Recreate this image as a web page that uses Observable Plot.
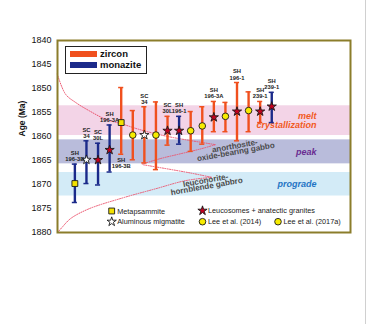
<!DOCTYPE html>
<html><head><meta charset="utf-8">
<script src="https://cdn.jsdelivr.net/npm/d3@7"></script>
<script src="https://cdn.jsdelivr.net/npm/@observablehq/plot@0.6"></script>
<style>
html,body{margin:0;padding:0;background:#fff;}
#wrap{position:relative;width:369px;height:324px;font-family:"Liberation Sans",Arial,sans-serif;}
#wrap svg{position:absolute;left:0;top:0;}
g[aria-label="y-axis tick label"]{font-size:9px;}
</style></head><body><div id="wrap"></div>
<script>
// ---- data ----
const samples = ["SH 196-3B","SC 34","SC 30L","SH 196-3A","SH 196-3B","","SC 34","","SC 30L","SH 196-1","","","SH 196-3A","","SH 196-1","","SH 239-1","SH 239-1"];
const labelSide = ["above","above","above","above","below","","above","","above","above","","","above","","above","","above","above"];
const ages   = [1869.8,1864.85,1864.9,1862.8,1857.1,1859.7,1859.7,1859.7,1858.8,1858.8,1858.8,1857.8,1856.0,1855.8,1854.8,1854.6,1854.8,1853.75];
const ageMin = [1865.75,1860.9,1861.4,1857.6,1849.8,1854.6,1853.8,1852.8,1855.8,1855.8,1854.8,1853.8,1852.7,1852.9,1848.75,1850.7,1852.7,1850.8];
const ageMax = [1873.75,1869.8,1870.1,1867.4,1863.7,1864.85,1865.5,1866.9,1861.8,1861.6,1863.1,1861.6,1859.0,1859.0,1860.9,1859.0,1857.1,1857.1];
const minerals = ["monazite","monazite","monazite","monazite","zircon","zircon","zircon","zircon","zircon","monazite","zircon","zircon","zircon","zircon","zircon","zircon","zircon","monazite"];
const rocks = ["Metapsammite","Aluminous migmatite","Leucosomes + anatectic granites","Leucosomes + anatectic granites","Metapsammite","Lee et al. (2014)","Aluminous migmatite","Lee et al. (2014)","Leucosomes + anatectic granites","Leucosomes + anatectic granites","Lee et al. (2017a)","Lee et al. (2017a)","Leucosomes + anatectic granites","Lee et al. (2017a)","Leucosomes + anatectic granites","Lee et al. (2017a)","Leucosomes + anatectic granites","Leucosomes + anatectic granites"];
const yTicks = [1840,1845,1850,1855,1860,1865,1870,1875,1880];
const bandNames = ["melt\ncrystallization","peak","prograde"];
const bandFrom = [1853.6,1860.7,1867.5];
const bandTo   = [1859.8,1865.7,1872.4];
const rockLabelText = ["anorthosite-\noxide-bearing gabbo","leuconorite-\nhornblende gabbro"];
const rockLabelX = [13.86,11.34];
const rockLabelAge = [1862.73,1869.9];
const curveUpperA = [[-1.52,1847.0],[-0.8,1851.2],[0.06,1852.9],[1.21,1854.6],[2.65,1856.4],[4.09,1857.4],[5.52,1858.5],[7.83,1859.9],[10.99,1861.25],[12.14,1861.7]];
const curveLowerA = [[5.82,1865.75],[7.39,1864.6],[9.12,1863.6],[10.84,1862.6],[12.14,1861.7]];
const curveUpperB = [[5.93,1865.9],[9.98,1867.6],[11.8,1868.5]];
const curveLowerB = [[-1.49,1880.0],[-1.06,1878.8],[-0.37,1877.1],[1.18,1875.1],[4.12,1872.8],[6.96,1870.9],[9.55,1869.2],[11.8,1868.5]];

// ---- build tables ----
const rows = ages.map((a,i)=>({i, age:a, lo:ageMin[i], hi:ageMax[i], mineral:minerals[i], rock:rocks[i], sample:samples[i], side:labelSide[i]}));
const bands = bandNames.map((n,i)=>({name:n, from:bandFrom[i], to:bandTo[i]}));
const bandFill = ["#f3d4e7","#b9bcdb","#d3ebf7"];
const bandText = ["#f15a24","#6a2c91","#1f74c4"];
const rockLabels = rockLabelText.map((t,i)=>({text:t, x:rockLabelX[i], y:rockLabelAge[i]}));
const curves = [["uA",curveUpperA],["lA",curveLowerA],["uB",curveUpperB],["lB",curveLowerB]]
  .flatMap(([id,pts])=>pts.map(([x,y])=>({id,x,y})));
const mineralColor = {zircon:"#f0501e", monazite:"#1b2a8a"};
const rockStyle = {
  "Metapsammite": {symbol:"square", fill:"#f3e100", r:3.3},
  "Aluminous migmatite": {symbol:"star", fill:"#ffffff", r:2.9},
  "Leucosomes + anatectic granites": {symbol:"star", fill:"#c4001f", r:2.9},
  "Lee et al. (2014)": {symbol:"circle", fill:"#f7ec00", r:3.3},
  "Lee et al. (2017a)": {symbol:"circle", fill:"#f7ec00", r:3.3}
};
const FONT = "Liberation Sans, Arial, sans-serif";

const dotMarks = Object.entries(rockStyle).map(([rock,s]) =>
  Plot.dot(rows.filter(d=>d.rock===rock), {x:"i", y:"age", symbol:()=>s.symbol, r:s.r, fill:s.fill, stroke:"#1a1a1a", strokeWidth:0.9}));

const chart = Plot.plot({
  width:369, height:324,
  marginLeft:57, marginRight:19, marginTop:40, marginBottom:92,
  style:{fontFamily:FONT, background:"transparent", color:"#111"},
  x:{domain:[-1.5,23.8], axis:null},
  y:{domain:[1840,1880], reverse:true, ticks:yTicks, tickFormat:d=>String(d), label:null, tickSize:0, tickPadding:6},
  symbol:{type:"identity"},
  marks:[
    Plot.rect(bands, {y1:"from", y2:"to", fill:d=>bandFill[bands.indexOf(d)]}),
    Plot.line(curves, {x:"x", y:"y", z:"id", stroke:"#ec5670", strokeWidth:1, strokeDasharray:"1,1.4", curve:"catmull-rom"}),
    Plot.text(bands, {y:d=>(d.from+d.to)/2, frameAnchor:"right", dx:-34, text:"name", fill:d=>bandText[bands.indexOf(d)], fontSize:9, fontWeight:"bold", fontStyle:"italic", lineHeight:0.95}),
    Plot.text(rockLabels, {x:"x", y:"y", text:"text", rotate:-10, fontSize:8, fontWeight:"bold", fill:"#4a4a4a", lineHeight:0.75}),
    Plot.ruleX(rows, {x:"i", y1:"lo", y2:"hi", stroke:d=>mineralColor[d.mineral], strokeWidth:2.4}),
    Plot.ruleY(rows, {y:"lo", x1:d=>d.i-0.22, x2:d=>d.i+0.22, stroke:d=>mineralColor[d.mineral], strokeWidth:1.5}),
    Plot.ruleY(rows, {y:"hi", x1:d=>d.i-0.22, x2:d=>d.i+0.22, stroke:d=>mineralColor[d.mineral], strokeWidth:1.5}),
    ...dotMarks,
    Plot.text(rows.filter(d=>d.side==="above"), {x:"i", y:"lo", text:d=>d.sample.replace(" ","\n"), lineAnchor:"bottom", dy:-3, fontSize:5.8, fontWeight:"bold", fill:"#222", lineHeight:1.05}),
    Plot.text(rows.filter(d=>d.side==="below"), {x:"i", y:"hi", text:d=>d.sample.replace(" ","\n"), lineAnchor:"top", dy:3, fontSize:5.8, fontWeight:"bold", fill:"#222", lineHeight:1.05}),
    Plot.text(["Age (Ma)"], {frameAnchor:"left", dx:-35, rotate:-90, text:d=>d, fontSize:8.5, fontWeight:"bold", fill:"#111"}),
    Plot.frame({stroke:"#8b7d2b", strokeWidth:2})
  ]
});
const wrap = document.getElementById("wrap");
wrap.appendChild(chart);

// ---- legends (overlay) ----
const ov = d3.select(wrap).append("svg").attr("width",369).attr("height",324)
  .style("font-family",FONT).style("pointer-events","none");
ov.append("line").attr("x1",365.5).attr("x2",365.5).attr("y1",0).attr("y2",324).attr("stroke","#d0d0d0");
ov.append("rect").attr("x",65.5).attr("y",46.5).attr("width",81).attr("height",27).attr("fill","#fff").attr("stroke","#222").attr("stroke-width",1);
[["zircon",54],["monazite",65]].forEach(([m,y])=>{
  ov.append("rect").attr("x",70).attr("y",y-3).attr("width",27).attr("height",6).attr("fill",mineralColor[m]);
  ov.append("text").attr("x",100).attr("y",y).attr("dy","0.35em").attr("font-size",9.5).attr("font-weight","bold").attr("fill","#111").text(m);
});
const legendItems = [
  ["Metapsammite",111.7,211],["Aluminous migmatite",111.7,221.7],
  ["Leucosomes + anatectic granites",202.5,210.7],["Lee et al. (2014)",202.5,221.7],["Lee et al. (2017a)",278,221.7]
];
const symType = {square:d3.symbolSquare, star:d3.symbolStar, circle:d3.symbolCircle};
legendItems.forEach(([name,x,y])=>{
  const s = rockStyle[name];
  ov.append("path").attr("transform",`translate(${x},${y})`)
    .attr("d", d3.symbol(symType[s.symbol], s.r*s.r*Math.PI)())
    .attr("fill",s.fill).attr("stroke","#1a1a1a").attr("stroke-width",0.9);
  ov.append("text").attr("x",x+5.5).attr("y",y).attr("dy","0.35em").attr("font-size",7.3).attr("fill","#222").text(name);
});
</script>
</body></html>
